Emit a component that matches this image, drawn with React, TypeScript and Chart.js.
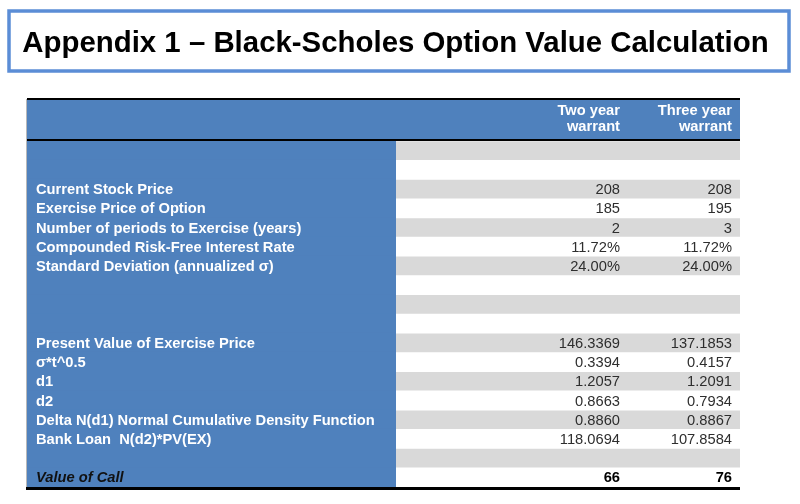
import React, { useEffect, useRef } from 'react';
import { Chart, registerables } from 'chart.js';

Chart.register(...registerables);

// ---------- data ----------
const titleText = 'Appendix 1 – Black-Scholes Option Value Calculation';
const columnHeaders = [
  ['Two year', 'warrant'],
  ['Three year', 'warrant'],
];
const rowLabels = [
  '',
  '',
  'Current Stock Price',
  'Exercise Price of Option',
  'Number of periods to Exercise (years)',
  'Compounded Risk-Free Interest Rate',
  'Standard Deviation (annualized σ)',
  '',
  '',
  '',
  'Present Value of Exercise Price',
  'σ*t^0.5',
  'd1',
  'd2',
  'Delta N(d1) Normal Cumulative Density Function',
  'Bank Loan  N(d2)*PV(EX)',
  '',
  'Value of Call',
];
const twoYearValues = ['', '', '208', '185', '2', '11.72%', '24.00%', '', '', '', '146.3369', '0.3394', '1.2057', '0.8663', '0.8860', '118.0694', '', '66'];
const threeYearValues = ['', '', '208', '195', '3', '11.72%', '24.00%', '', '', '', '137.1853', '0.4157', '1.2091', '0.7934', '0.8867', '107.8584', '', '76'];
const totalRowIndex = 17;

// ---------- layout (x units of the table scale) ----------
const TABLE_W = 713;
const LABEL_COL_END = 369;
const VALUE_ANCHORS = [593, 705];

const BLUE = '#4f81bd';
const GREY = '#d9d9d9';
const FONT = '"Liberation Sans", Arial, sans-serif';

const tablePlugin = {
  id: 'tableDecor',
  beforeDraw(chart: any) {
    const { ctx, chartArea } = chart;
    const xs = chart.scales.x;
    ctx.save();
    ctx.fillStyle = '#ffffff';
    ctx.fillRect(0, 0, chart.width, chart.height);

    // title box
    ctx.strokeStyle = '#5b8dd6';
    ctx.lineWidth = 3.5;
    ctx.strokeRect(9, 11, 780, 60);
    ctx.fillStyle = '#000000';
    ctx.font = 'bold 29.4px ' + FONT;
    ctx.textAlign = 'center';
    ctx.textBaseline = 'alphabetic';
    ctx.fillText(titleText, 395.5, 52);

    // header band
    const left = xs.getPixelForValue(0);
    const right = xs.getPixelForValue(TABLE_W);
    ctx.fillStyle = BLUE;
    ctx.fillRect(left, chartArea.top - 41, right - left, 41);
    ctx.restore();
  },
  afterDatasetsDraw(chart: any) {
    const { ctx, chartArea } = chart;
    const xs = chart.scales.x;
    const ys = chart.scales.y;
    const left = xs.getPixelForValue(0);
    const right = xs.getPixelForValue(TABLE_W);
    ctx.save();

    // left edge hairline
    ctx.fillStyle = '#b8b8b8';
    ctx.fillRect(left - 1, chartArea.top - 42, 1, chartArea.bottom - chartArea.top + 45);

    // rules
    ctx.fillStyle = '#000000';
    ctx.fillRect(left, chartArea.top - 43, right - left, 2);
    ctx.fillRect(left, chartArea.top - 2, right - left, 2);
    ctx.fillRect(left - 1, chartArea.bottom, right - left + 1, 3);

    // header text
    ctx.fillStyle = '#ffffff';
    ctx.font = 'bold 14.7px ' + FONT;
    ctx.textAlign = 'right';
    ctx.textBaseline = 'middle';
    columnHeaders.forEach((lines, c) => {
      const x = xs.getPixelForValue(VALUE_ANCHORS[c]);
      ctx.fillText(lines[0], x, chartArea.top - 30);
      ctx.fillText(lines[1], x, chartArea.top - 14);
    });

    // row labels
    ctx.textAlign = 'left';
    rowLabels.forEach((label, i) => {
      if (!label) return;
      const y = ys.getPixelForValue(i);
      if (i === totalRowIndex) {
        ctx.fillStyle = '#111111';
        ctx.font = 'italic bold 14.7px ' + FONT;
      } else {
        ctx.fillStyle = '#ffffff';
        ctx.font = 'bold 14.7px ' + FONT;
      }
      ctx.fillText(label, left + 9, y + 1);
    });

    // values
    ctx.textAlign = 'right';
    [twoYearValues, threeYearValues].forEach((col, c) => {
      const x = xs.getPixelForValue(VALUE_ANCHORS[c]);
      col.forEach((v, i) => {
        if (!v) return;
        const y = ys.getPixelForValue(i);
        if (i === totalRowIndex) {
          ctx.fillStyle = '#000000';
          ctx.font = 'bold 14.7px ' + FONT;
        } else {
          ctx.fillStyle = '#2e2e2e';
          ctx.font = '14.7px ' + FONT;
        }
        ctx.fillText(v, x, y + 1);
      });
    });
    ctx.restore();
  },
};

export default function App() {
  const canvasRef = useRef<HTMLCanvasElement | null>(null);

  useEffect(() => {
    if (!canvasRef.current) return;
    const chart = new Chart(canvasRef.current, {
      type: 'bar',
      data: {
        labels: rowLabels,
        datasets: [
          {
            label: 'labels',
            data: rowLabels.map(() => [0, LABEL_COL_END]) as any,
            backgroundColor: BLUE,
            borderWidth: 0,
            grouped: false,
            barPercentage: 1.06,
            categoryPercentage: 1,
          } as any,
          {
            label: 'shade',
            data: rowLabels.map((_, i) => (i % 2 === 0 ? [LABEL_COL_END, TABLE_W] : null)) as any,
            backgroundColor: GREY,
            borderWidth: 0,
            grouped: false,
            barPercentage: 0.97,
            categoryPercentage: 1,
          } as any,
        ],
      },
      options: {
        indexAxis: 'y',
        animation: false,
        responsive: false,
        events: [],
        layout: { padding: { left: 27, right: 60, top: 141, bottom: 17 } },
        plugins: {
          legend: { display: false },
          title: { display: false },
          tooltip: { enabled: false },
        },
        scales: {
          x: { type: 'linear', min: 0, max: TABLE_W, display: false },
          y: { type: 'category', display: false, offset: true },
        },
      },
      plugins: [tablePlugin],
    });
    return () => chart.destroy();
  }, []);

  return (
    <div style={{ position: 'fixed', left: 0, top: 0, width: 800, height: 504, background: '#ffffff' }}>
      <canvas ref={canvasRef} width={800} height={504} style={{ display: 'block', width: 800, height: 504 }} />
    </div>
  );
}
